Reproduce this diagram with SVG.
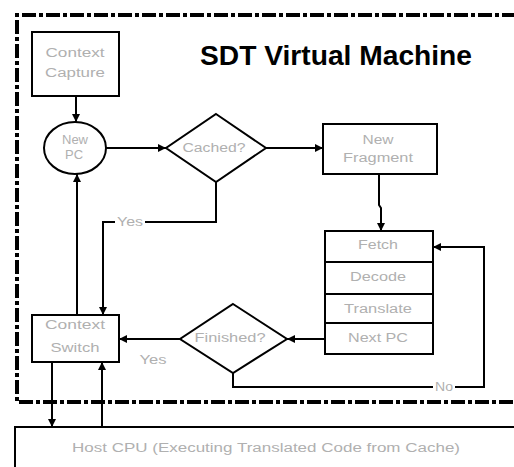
<svg xmlns="http://www.w3.org/2000/svg" width="514" height="467" viewBox="0 0 514 467">
<style>
.box{fill:#fff;stroke:#000;stroke-width:2}
.lbl{font-family:"Liberation Sans",Arial,sans-serif;font-size:12px;fill:#b0b0b0;text-anchor:middle}
.edge{fill:none;stroke:#000;stroke-width:2}
.title{font-family:"Liberation Sans",Arial,sans-serif;font-size:28px;font-weight:bold;fill:#000}
</style>
<defs>
<marker id="ah" viewBox="0 0 10 10" refX="10" refY="5" markerWidth="4" markerHeight="4" orient="auto" markerUnits="strokeWidth">
<path d="M0,0 L10,5 L0,10 z" fill="#000"/>
</marker>
</defs>
<rect width="514" height="467" fill="#fff"/>
<g id="vm-border">
<path d="M540,15 H17 V402 H540" fill="none" stroke="#000" stroke-width="4" stroke-dasharray="14 3 4 3"/>
</g>
<g id="title">
<text class="title" x="200" y="65" textLength="272" lengthAdjust="spacingAndGlyphs">SDT Virtual Machine</text>
</g>
<g id="host-cpu">
<rect class="box" x="15" y="427" width="530" height="60"/>
<text class="lbl" x="266" y="452" textLength="388" lengthAdjust="spacingAndGlyphs">Host CPU (Executing Translated Code from Cache)</text>
</g>
<g id="context-capture">
<rect class="box" x="32" y="32" width="87" height="64"/>
<text class="lbl" x="75" y="57" textLength="59" lengthAdjust="spacingAndGlyphs">Context</text>
<text class="lbl" x="75" y="77" textLength="60" lengthAdjust="spacingAndGlyphs">Capture</text>
</g>
<g id="new-pc">
<ellipse class="box" cx="75" cy="148" rx="31" ry="26"/>
<text class="lbl" x="75" y="144" textLength="26" lengthAdjust="spacingAndGlyphs">New</text>
<text class="lbl" x="74" y="159" textLength="18" lengthAdjust="spacingAndGlyphs">PC</text>
</g>
<g id="cached">
<polygon class="box" points="216,114 266,148 216,182 166,148"/>
<text class="lbl" x="214" y="152" textLength="63" lengthAdjust="spacingAndGlyphs">Cached?</text>
</g>
<g id="new-fragment">
<rect class="box" x="323" y="124" width="114" height="50"/>
<text class="lbl" x="378" y="144" textLength="31" lengthAdjust="spacingAndGlyphs">New</text>
<text class="lbl" x="378" y="162" textLength="70" lengthAdjust="spacingAndGlyphs">Fragment</text>
</g>
<g id="pipeline">
<rect class="box" x="325" y="231" width="108" height="123"/>
<line x1="325" y1="262" x2="433" y2="262" stroke="#000" stroke-width="2"/>
<line x1="325" y1="294" x2="433" y2="294" stroke="#000" stroke-width="2"/>
<line x1="325" y1="323" x2="433" y2="323" stroke="#000" stroke-width="2"/>
<text class="lbl" x="378" y="249" textLength="40" lengthAdjust="spacingAndGlyphs">Fetch</text>
<text class="lbl" x="378" y="281" textLength="56" lengthAdjust="spacingAndGlyphs">Decode</text>
<text class="lbl" x="378" y="313" textLength="68" lengthAdjust="spacingAndGlyphs">Translate</text>
<text class="lbl" x="378" y="342" textLength="60" lengthAdjust="spacingAndGlyphs">Next PC</text>
</g>
<g id="finished">
<polygon class="box" points="233,304 287,339 233,373 180,339"/>
<text class="lbl" x="230" y="342" textLength="71" lengthAdjust="spacingAndGlyphs">Finished?</text>
</g>
<g id="context-switch">
<rect class="box" x="32" y="315" width="87" height="47"/>
<text class="lbl" x="75" y="329" textLength="60" lengthAdjust="spacingAndGlyphs">Context</text>
<text class="lbl" x="75" y="352" textLength="49" lengthAdjust="spacingAndGlyphs">Switch</text>
</g>
<g id="connectors">
<path class="edge" d="M76,96 V122" marker-end="url(#ah)"/>
<path class="edge" d="M106,148 H166" marker-end="url(#ah)"/>
<path class="edge" d="M266,148 H323" marker-end="url(#ah)"/>
<path class="edge" d="M379,174 V205 L381,208 V231" marker-end="url(#ah)"/>
<path class="edge" d="M216,182 V222 H103 V315" marker-end="url(#ah)"/>
<path class="edge" d="M325,339 H287" marker-end="url(#ah)"/>
<path class="edge" d="M180,339 H119" marker-end="url(#ah)"/>
<path class="edge" d="M233,373 V387 H484 V247 H433" marker-end="url(#ah)"/>
<path class="edge" d="M77,315 V174" marker-end="url(#ah)"/>
<path class="edge" d="M52,362 V427" marker-end="url(#ah)"/>
<path class="edge" d="M102,427 V362" marker-end="url(#ah)"/>
<rect x="115" y="215" width="30" height="14" fill="#fff"/>
<text class="lbl" x="130" y="226" textLength="26" lengthAdjust="spacingAndGlyphs">Yes</text>
<text class="lbl" x="153" y="364" textLength="27" lengthAdjust="spacingAndGlyphs">Yes</text>
<rect x="433" y="380" width="22" height="14" fill="#fff"/>
<text class="lbl" x="444" y="391" textLength="18" lengthAdjust="spacingAndGlyphs">No</text>
</g>
</svg>
